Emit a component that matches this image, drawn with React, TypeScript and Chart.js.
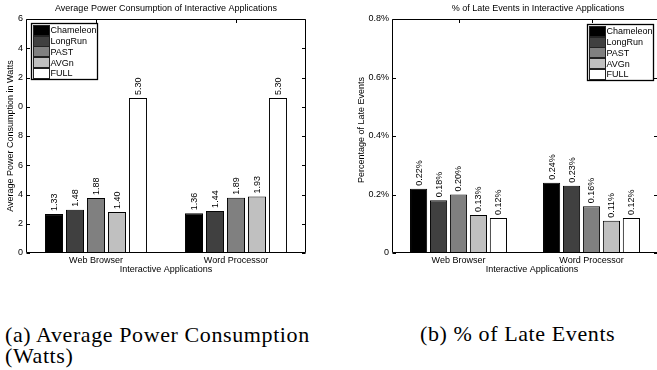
import React, { useEffect, useRef } from "react";
import { Chart, registerables } from "chart.js";

Chart.register(...registerables);

// ---------- data ----------
const categories = ["Web Browser", "Word Processor"];
const seriesNames = ["Chameleon", "LongRun", "PAST", "AVGn", "FULL"];
const seriesColors = ["#000000", "#404040", "#808080", "#c0c0c0", "#ffffff"];

// (a) average power consumption, Watts
const powerChameleon = [1.33, 1.36];
const powerLongRun = [1.48, 1.44];
const powerPAST = [1.88, 1.89];
const powerAVGn = [1.4, 1.93];
const powerFULL = [5.3, 5.3];
const powerTickLabels = ["0", "2", "4", "6", "8", "0", "2", "4", "6"];

// (b) % of late events
const lateChameleon = [0.22, 0.24];
const lateLongRun = [0.18, 0.23];
const latePAST = [0.2, 0.16];
const lateAVGn = [0.13, 0.11];
const lateFULL = [0.12, 0.12];
const lateTickLabels = ["0", "0.2%", "0.4%", "0.6%", "0.8%"];

const FONT = "'Liberation Sans', Arial, Helvetica, sans-serif";
Chart.defaults.font.family = FONT;
Chart.defaults.font.size = 9;
Chart.defaults.color = "#000";

const decorPlugin = {
  id: "decor",
  beforeDatasetsDraw(chart: any, _args: any, opts: any) {
    const { ctx, chartArea: a, scales } = chart;
    ctx.save();
    ctx.strokeStyle = "#000";
    ctx.lineWidth = 1;
    const L = Math.round(a.left) + 0.5;
    const R = Math.round(a.right) - 0.5;
    const T = Math.round(a.top) + 0.5;
    const B = Math.round(a.bottom) - 0.5;
    ctx.beginPath();
    ctx.moveTo(L, T);
    ctx.lineTo(R, T);
    ctx.lineTo(R, B);
    ctx.lineTo(L, B);
    ctx.closePath();
    ctx.stroke();
    const tl = 3.5;
    ctx.beginPath();
    scales.y.ticks.forEach((_t: any, i: number) => {
      const y = Math.round(scales.y.getPixelForTick(i)) + 0.5;
      ctx.moveTo(L, y);
      ctx.lineTo(L + tl, y);
      ctx.moveTo(R, y);
      ctx.lineTo(R - tl, y);
    });
    scales.x.ticks.forEach((_t: any, i: number) => {
      const x = Math.round(scales.x.getPixelForTick(i)) + 0.5;
      ctx.moveTo(x, T);
      ctx.lineTo(x, T + tl);
      ctx.moveTo(x, B);
      ctx.lineTo(x, B - tl);
    });
    ctx.stroke();
    ctx.restore();
  },
  afterDatasetsDraw(chart: any, _args: any, opts: any) {
    const { ctx } = chart;
    ctx.save();
    ctx.fillStyle = "#000";
    ctx.font = `9px ${FONT}`;
    // value labels
    chart.data.datasets.forEach((ds: any, di: number) => {
      const meta = chart.getDatasetMeta(di);
      meta.data.forEach((bar: any, i: number) => {
        const v = ds.data[i];
        const text = v.toFixed(2) + (opts.suffix || "");
        ctx.save();
        ctx.translate(bar.x + 0.5, bar.y - 3);
        ctx.rotate(-Math.PI / 2);
        ctx.textAlign = "left";
        ctx.textBaseline = "middle";
        ctx.fillText(text, 0, 0);
        ctx.restore();
      });
    });
    // legend
    const lx = opts.legendX;
    const ly = opts.legendY;
    const lw = 66;
    const lh = 56;
    ctx.fillStyle = "#fff";
    ctx.fillRect(lx, ly, lw, lh);
    ctx.strokeStyle = "#000";
    ctx.lineWidth = 1.3;
    ctx.strokeRect(lx + 0.5, ly + 0.5, lw, lh);
    ctx.lineWidth = 1;
    chart.data.datasets.forEach((ds: any, di: number) => {
      const cy = ly + 7.5 + di * 10.7;
      ctx.fillStyle = ds.backgroundColor;
      ctx.fillRect(lx + 3, Math.round(cy - 4.5), 15, 9);
      ctx.strokeStyle = "#222";
      ctx.strokeRect(lx + 2.5, Math.round(cy - 4.5) - 0.5, 16, 10);
      ctx.fillStyle = "#000";
      ctx.textAlign = "left";
      ctx.textBaseline = "middle";
      ctx.fillText(ds.label, lx + 19.5, cy + 0.5);
    });
    // titles
    ctx.fillStyle = "#000";
    ctx.textAlign = "center";
    ctx.textBaseline = "middle";
    ctx.fillText(opts.title, opts.titleX, opts.titleY);
    ctx.fillText(opts.xTitle, opts.xTitleX, opts.xTitleY);
    ctx.save();
    ctx.translate(opts.yTitleX, opts.yTitleY);
    ctx.rotate(-Math.PI / 2);
    ctx.fillText(opts.yTitle, 0, 0);
    ctx.restore();
    ctx.restore();
  },
};

function makeDatasets(series: number[][]) {
  return series.map((data, i) => ({
    label: seriesNames[i],
    data,
    backgroundColor: seriesColors[i],
    borderColor: "#000",
    borderWidth: 1,
    borderSkipped: false,
    categoryPercentage: 0.75,
    barPercentage: 0.86,
  }));
}

function makeConfig(
  series: number[][],
  yMax: number,
  yStep: number,
  tickLabels: string[],
  yWidth: number,
  padRight: number,
  decor: any
): any {
  return {
    type: "bar",
    data: { labels: categories, datasets: makeDatasets(series) },
    plugins: [decorPlugin],
    options: {
      responsive: false,
      animation: false,
      devicePixelRatio: 1,
      layout: { padding: { top: 19, right: padRight, left: 0, bottom: 0 } },
      plugins: {
        legend: { display: false },
        tooltip: { enabled: false },
        title: { display: false },
        decor,
      },
      scales: {
        x: {
          grid: { display: false, drawTicks: false },
          border: { display: false },
          ticks: { padding: 2, font: { size: 9, family: FONT }, color: "#000", maxRotation: 0 },
          afterFit: (s: any) => {
            s.height = 27;
          },
        },
        y: {
          min: 0,
          max: yMax,
          grid: { display: false, drawTicks: false },
          border: { display: false },
          ticks: {
            stepSize: yStep,
            padding: 3,
            font: { size: 9, family: FONT },
            color: "#000",
            callback: (_v: any, i: number) => tickLabels[i],
          },
          afterFit: (s: any) => {
            s.width = yWidth;
          },
        },
      },
    },
  };
}

export default function App() {
  const leftRef = useRef<HTMLCanvasElement | null>(null);
  const rightRef = useRef<HTMLCanvasElement | null>(null);

  useEffect(() => {
    const left = new Chart(
      leftRef.current as HTMLCanvasElement,
      makeConfig(
        [powerChameleon, powerLongRun, powerPAST, powerAVGn, powerFULL],
        8,
        1,
        powerTickLabels,
        26,
        24,
        {
          suffix: "",
          legendX: 31,
          legendY: 23,
          title: "Average Power Consumption of Interactive Applications",
          titleX: 166,
          titleY: 9,
          xTitle: "Interactive Applications",
          xTitleX: 166,
          xTitleY: 270,
          yTitle: "Average Power Consumption in Watts",
          yTitleX: 10.5,
          yTitleY: 136,
        }
      )
    );
    const right = new Chart(
      rightRef.current as HTMLCanvasElement,
      makeConfig(
        [lateChameleon, lateLongRun, latePAST, lateAVGn, lateFULL],
        0.8,
        0.2,
        lateTickLabels,
        62,
        4,
        {
          suffix: "%",
          legendX: 257,
          legendY: 24,
          title: "% of Late Events in Interactive Applications",
          titleX: 208,
          titleY: 9,
          xTitle: "Interactive Applications",
          xTitleX: 202,
          xTitleY: 270,
          yTitle: "Percentage of Late Events",
          yTitleX: 31.5,
          yTitleY: 130,
        }
      )
    );
    return () => {
      left.destroy();
      right.destroy();
    };
  }, []);

  const captionStyle: React.CSSProperties = {
    position: "absolute",
    fontFamily: "'Liberation Serif', 'Times New Roman', serif",
    fontSize: "22px",
    lineHeight: "21px",
    letterSpacing: "0.6px",
    color: "#000",
  };

  return (
    <div
      style={{
        position: "absolute",
        left: 0,
        top: 0,
        width: 657,
        height: 370,
        overflow: "hidden",
        background: "#fff",
      }}
    >
      <canvas
        ref={leftRef}
        width={330}
        height={280}
        style={{ position: "absolute", left: 0, top: 0, width: 330, height: 280 }}
      />
      <canvas
        ref={rightRef}
        width={332}
        height={280}
        style={{ position: "absolute", left: 330, top: 0, width: 332, height: 280 }}
      />
      <div style={{ ...captionStyle, left: 5, top: 324, width: 320 }}>
        (a) Average Power Consumption (Watts)
      </div>
      <div style={{ ...captionStyle, left: 420, top: 323, whiteSpace: "nowrap" }}>
        (b) % of Late Events
      </div>
    </div>
  );
}
